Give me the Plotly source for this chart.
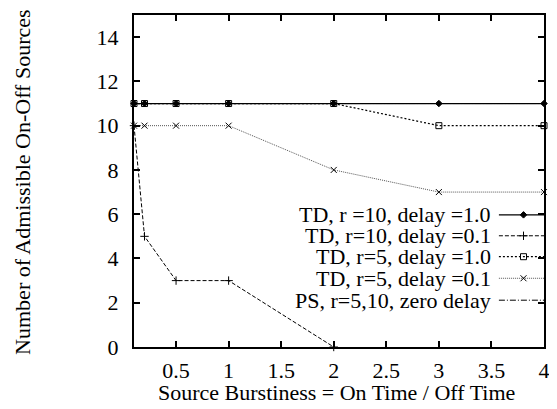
import plotly.graph_objects as go

x_vals = [0.1, 0.2, 0.5, 1, 2, 3, 4]
td_r10_d10 = [11, 11, 11, 11, 11, 11, 11]
x_r10_d01 = [0.1, 0.2, 0.5, 1, 2]
td_r10_d01 = [10, 5, 3, 3, 0]
td_r5_d10 = [11, 11, 11, 11, 11, 10, 10]
td_r5_d01 = [10, 10, 10, 10, 8, 7, 7]
ps_zero = [11, 11, 11, 11, 11, 11, 11]

names = ["TD, r =10, delay =1.0", "TD, r=10, delay =0.1", "TD, r=5, delay =1.0",
         "TD, r=5, delay =0.1", "PS, r=5,10, zero delay"]
x_ticks = [0.5, 1, 1.5, 2, 2.5, 3, 3.5, 4]
y_ticks = [0, 2, 4, 6, 8, 10, 12, 14]

FONT = "Liberation Serif, Times New Roman, serif"
BLACK = "#000000"

styles = [
    dict(dash="solid", width=1.2, color=BLACK, symbol="diamond", msize=5, mcolor=BLACK, mline=1),
    dict(dash="4px,2px", width=1, color=BLACK, symbol="cross-thin", msize=6, mcolor=BLACK, mline=1),
    dict(dash="2px,2px", width=1.2, color=BLACK, symbol="square-open", msize=6, mcolor=BLACK, mline=1),
    dict(dash="1px,1px", width=1, color="#555555", symbol="x-thin", msize=6, mcolor=BLACK, mline=1),
    dict(dash="6px,2px,1px,2px", width=1, color=BLACK, symbol=None, msize=0, mcolor=BLACK, mline=0),
]

series = [
    (x_vals, td_r10_d10),
    (x_r10_d01, td_r10_d01),
    (x_vals, td_r5_d10),
    (x_vals, td_r5_d01),
    (x_vals, ps_zero),
]

fig = go.Figure()
for (xs, ys), st, nm in zip(series, styles, names):
    mode = "lines+markers" if st["symbol"] else "lines"
    marker = dict(symbol=st["symbol"], size=st["msize"], color=st["mcolor"],
                  line=dict(color=st["mcolor"], width=st["mline"])) if st["symbol"] else None
    fig.add_trace(go.Scatter(x=xs, y=ys, mode=mode, name=nm,
                             line=dict(color=st["color"], width=st["width"], dash=st["dash"]),
                             marker=marker, showlegend=False, cliponaxis=False))

# custom legend (text left of sample, like gnuplot)
leg_y = [0.398, 0.335, 0.272, 0.207, 0.141]
for st, nm, yy in zip(styles, names, leg_y):
    mode = "lines+markers" if st["symbol"] else "lines"
    fig.add_trace(go.Scatter(x=[0.89, 0.95, 1.0], y=[yy, yy, yy], xaxis="x2", yaxis="y2",
                             mode=mode, line=dict(color=st["color"], width=st["width"], dash=st["dash"]),
                             marker=dict(symbol=st["symbol"], size=st["msize"], color=st["mcolor"],
                                         line=dict(color=st["mcolor"], width=st["mline"]),
                                         opacity=[0, 1, 0]) if st["symbol"] else None,
                             showlegend=False, hoverinfo="skip", cliponaxis=False))
    fig.add_annotation(x=0.876, y=yy, xref="paper", yref="paper", text=nm, showarrow=False,
                       xanchor="right", yanchor="middle", font=dict(family=FONT, size=22, color=BLACK))

fig.add_annotation(x=-0.271, y=0.497, xref="paper", yref="paper",
                   text="Number of Admissible On-Off Sources", textangle=-90, showarrow=False,
                   xanchor="center", yanchor="middle", font=dict(family=FONT, size=22, color=BLACK))
fig.add_annotation(x=0.495, y=-0.138, xref="paper", yref="paper",
                   text="Source Burstiness = On Time / Off Time", showarrow=False,
                   xanchor="center", yanchor="middle", font=dict(family=FONT, size=22, color=BLACK))

axis_common = dict(showgrid=False, zeroline=False, showline=True, linecolor=BLACK, linewidth=2,
                   mirror="allticks", ticks="inside", ticklen=6, tickwidth=1.5, tickcolor=BLACK,
                   tickfont=dict(family=FONT, size=22, color=BLACK))

# page body has an 8px margin; figure is sized so the plot lands where the reference has it
fig.update_layout(
    width=549, height=401,
    margin=dict(l=126, r=13, t=5, b=62),
    font=dict(family=FONT, color=BLACK),
    paper_bgcolor="white", plot_bgcolor="white",
    xaxis=dict(range=[0.1, 4], tickvals=x_ticks, ticktext=[str(v) for v in x_ticks],
               ticklabelstandoff=3, **axis_common),
    yaxis=dict(range=[0, 15], tickvals=y_ticks, ticklabelstandoff=9, **axis_common),
    xaxis2=dict(overlaying="x", range=[0, 1], visible=False, fixedrange=True),
    yaxis2=dict(overlaying="y", range=[0, 1], visible=False, fixedrange=True),
    showlegend=False,
)

fig.write_html("out.html")
